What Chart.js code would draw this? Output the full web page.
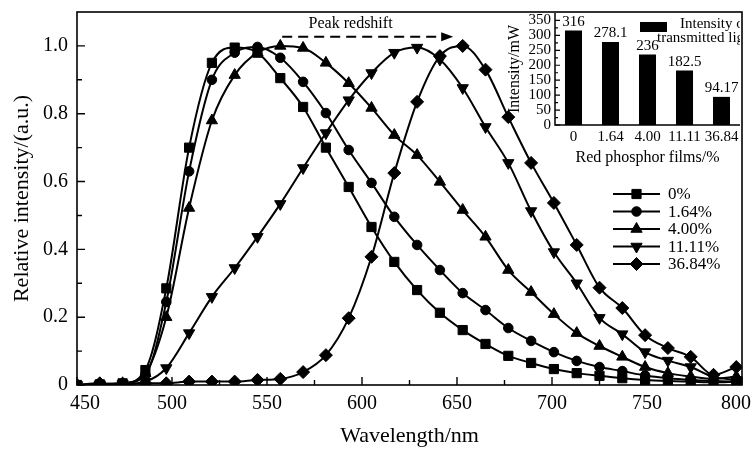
<!DOCTYPE html>
<html><head><meta charset="utf-8">
<script src="https://cdn.jsdelivr.net/npm/chart.js@4.4.1/dist/chart.umd.min.js"></script>
<style>
html,body{margin:0;padding:0;background:#fff;}
#wrap{position:relative;width:755px;height:449px;background:#fff;}
#main{position:absolute;left:0;top:0;}
#inset{position:absolute;left:497px;top:0;}
</style></head><body>
<div id="wrap"><canvas id="main" width="755" height="449"></canvas><canvas id="inset" width="258" height="175"></canvas></div>
<script>
// ---------------- data ----------------
const wavelengths = [450,462,474,486,497,509,521,533,545,557,569,581,593,605,617,629,641,653,665,677,689,701,713,725,737,749,761,773,785,797];
const s0    = [0.000,0.002,0.005,0.044,0.285,0.700,0.950,0.995,0.980,0.905,0.820,0.700,0.584,0.466,0.363,0.280,0.213,0.162,0.121,0.086,0.065,0.047,0.035,0.027,0.020,0.015,0.012,0.010,0.008,0.010];
const s164  = [0.000,0.002,0.005,0.030,0.245,0.630,0.900,0.980,0.997,0.965,0.894,0.802,0.693,0.596,0.496,0.413,0.339,0.271,0.221,0.168,0.130,0.097,0.071,0.053,0.041,0.028,0.020,0.015,0.012,0.010];
const s400  = [0.000,0.002,0.005,0.035,0.200,0.522,0.780,0.914,0.980,1.000,0.994,0.950,0.890,0.817,0.737,0.678,0.599,0.516,0.437,0.339,0.274,0.209,0.153,0.115,0.083,0.053,0.035,0.025,0.018,0.025];
const s1111 = [0.000,0.002,0.003,0.010,0.050,0.153,0.260,0.345,0.437,0.534,0.640,0.743,0.840,0.920,0.980,0.995,0.960,0.876,0.761,0.655,0.513,0.392,0.300,0.198,0.150,0.097,0.072,0.053,0.024,0.015];
const s3684 = [0.000,0.005,0.002,0.005,0.005,0.010,0.010,0.010,0.015,0.018,0.038,0.088,0.197,0.378,0.625,0.835,0.970,1.000,0.930,0.790,0.655,0.537,0.413,0.287,0.227,0.147,0.109,0.083,0.030,0.053];
const seriesLabels = ['0%','1.64%','4.00%','11.11%','36.84%'];
const seriesValues = [s0, s164, s400, s1111, s3684];

const xTicks = [450,500,550,600,650,700,750,800];
const xTickLabels = ['450','500','550','600','650','700','750','800'];
const yTicks = [0,0.2,0.4,0.6,0.8,1.0];
const yTickLabels = ['0','0.2','0.4','0.6','0.8','1.0'];

const arrowFrom = 558, arrowTo = 648, arrowLevel = 1.027;
const arrowText = 'Peak redshift', arrowTextX = 594, arrowTextY = 1.065;

const insetCategories = ['0','1.64','4.00','11.11','36.84'];
const insetValues = [316, 278.1, 236, 182.5, 94.17];
const insetValueLabels = ['316','278.1','236','182.5','94.17'];
const insetYTicks = [0,50,100,150,200,250,300,350];
const insetLegendLines = ['Intensity of','transmitted light'];

// ---------------- styles ----------------
const FONT = '"Liberation Serif","Times New Roman",serif';
const markers = [
  {pointStyle:'rect', radius:6.5, rotation:0},
  {pointStyle:'circle', radius:4.8, rotation:0},
  {pointStyle:'triangle', radius:6.5, rotation:0},
  {pointStyle:'triangle', radius:6.5, rotation:180},
  {pointStyle:'rectRot', radius:6.5, rotation:0}
];

function drawMarker(ctx, m, x, y){
  ctx.save();
  ctx.fillStyle = '#000'; ctx.strokeStyle = '#000'; ctx.lineWidth = 1;
  if (Chart.helpers && Chart.helpers.drawPoint){
    Chart.helpers.drawPoint(ctx, {pointStyle:m.pointStyle, rotation:m.rotation, radius:m.radius, borderWidth:1}, x, y);
  } else {
    ctx.beginPath(); ctx.arc(x,y,m.radius,0,Math.PI*2); ctx.fill();
  }
  ctx.restore();
}
function noPad(s){ s.paddingLeft = 0; s.paddingRight = 0; s.paddingTop = 0; s.paddingBottom = 0; }

const mainPlugin = {
  id:'mainDeco',
  afterDraw(chart){
    const {ctx, chartArea:a, scales:{x, y}} = chart;
    ctx.save();
    ctx.strokeStyle = '#000'; ctx.lineWidth = 1.6;
    ctx.strokeRect(a.left, a.top, a.right - a.left, a.bottom - a.top);
    ctx.lineWidth = 1.4;
    ctx.beginPath();
    xTicks.forEach((v,i)=>{
      const px = x.getPixelForValue(v);
      ctx.moveTo(px, a.bottom); ctx.lineTo(px, a.bottom - 8);
      if (i < xTicks.length - 1){
        const pm = x.getPixelForValue((v + xTicks[i+1]) / 2);
        ctx.moveTo(pm, a.bottom); ctx.lineTo(pm, a.bottom - 5);
      }
    });
    yTicks.forEach((v,i)=>{
      const py = y.getPixelForValue(v);
      ctx.moveTo(a.left, py); ctx.lineTo(a.left + 8, py);
      if (i < yTicks.length - 1){
        const pm = y.getPixelForValue((v + yTicks[i+1]) / 2);
        ctx.moveTo(a.left, pm); ctx.lineTo(a.left + 5, pm);
      }
    });
    ctx.stroke();
    // x tick labels (end labels nudged inward as in the original figure)
    ctx.fillStyle = '#000';
    ctx.font = '20px ' + FONT; ctx.textAlign = 'center'; ctx.textBaseline = 'middle';
    xTicks.forEach((v,i)=>{
      let px = x.getPixelForValue(v);
      if (i === 0) px += 8;
      if (i === xTicks.length - 1) px -= 6;
      ctx.fillText(xTickLabels[i], px, a.bottom + 19);
    });
    // dashed arrow
    const x0 = x.getPixelForValue(arrowFrom), x1 = x.getPixelForValue(arrowTo), ay = y.getPixelForValue(arrowLevel);
    ctx.lineWidth = 2;
    ctx.setLineDash([10,6]);
    ctx.beginPath(); ctx.moveTo(x0, ay); ctx.lineTo(x1 - 10, ay); ctx.stroke();
    ctx.setLineDash([]);
    ctx.beginPath(); ctx.moveTo(x1, ay); ctx.lineTo(x1 - 12, ay - 4.5); ctx.lineTo(x1 - 12, ay + 4.5); ctx.closePath();
    ctx.fill();
    ctx.font = '16px ' + FONT;
    ctx.fillText(arrowText, x.getPixelForValue(arrowTextX), y.getPixelForValue(arrowTextY));
    // legend
    const lx = 613, llen = 47, ty0 = 194, gap = 17.5;
    ctx.font = '17px ' + FONT; ctx.textAlign = 'left';
    chart.data.datasets.forEach((ds, i)=>{
      const ry = ty0 + i * gap;
      ctx.lineWidth = 2; ctx.strokeStyle = '#000';
      ctx.beginPath(); ctx.moveTo(lx, ry); ctx.lineTo(lx + llen, ry); ctx.stroke();
      drawMarker(ctx, markers[i], lx + llen/2, ry);
      ctx.fillStyle = '#000';
      ctx.fillText(ds.label, lx + llen + 8, ry + 1);
    });
    ctx.restore();
  }
};

new Chart(document.getElementById('main'), {
  type:'line',
  data:{
    datasets: seriesValues.map((vals, i)=>({
      label: seriesLabels[i],
      data: wavelengths.map((w, j)=>({x:w, y:vals[j]})),
      borderColor:'#000', backgroundColor:'#000', borderWidth:2,
      pointStyle: markers[i].pointStyle, pointRadius: markers[i].radius, pointRotation: markers[i].rotation,
      pointBackgroundColor:'#000', pointBorderColor:'#000', pointBorderWidth:1,
      cubicInterpolationMode:'monotone', fill:false
    }))
  },
  options:{
    responsive:false, animation:false, devicePixelRatio:1,
    layout:{padding:{left:0,right:13,top:12,bottom:0}},
    plugins:{legend:{display:false}, tooltip:{enabled:false}},
    scales:{
      x:{type:'linear', min:450, max:800,
        afterBuildTicks:s=>{ s.ticks = xTicks.map(v=>({value:v})); },
        afterFit:s=>{ s.height = 64; noPad(s); },
        grid:{display:false, drawTicks:false}, border:{display:false},
        ticks:{display:false},
        title:{display:true, text:'Wavelength/nm', font:{family:FONT,size:22}, color:'#000', padding:{top:0,bottom:0}}
      },
      y:{type:'linear', min:0, max:1.1,
        afterBuildTicks:s=>{ s.ticks = yTicks.map(v=>({value:v})); },
        afterFit:s=>{ s.width = 77; noPad(s); },
        grid:{display:false, drawTicks:false}, border:{display:false},
        ticks:{font:{family:FONT,size:20}, color:'#000', padding:9, autoSkip:false, callback:(v,i)=>yTickLabels[i]},
        title:{display:true, text:'Relative intensity/(a.u.)', font:{family:FONT,size:22}, color:'#000', padding:{top:9,bottom:0}}
      }
    }
  },
  plugins:[mainPlugin]
});

// ---------------- inset ----------------
const insetPlugin = {
  id:'insetDeco',
  afterDraw(chart){
    const {ctx, chartArea:a, scales:{y}} = chart;
    ctx.save();
    ctx.strokeStyle = '#000'; ctx.lineWidth = 1.5;
    ctx.beginPath();
    ctx.moveTo(a.left, a.top); ctx.lineTo(a.left, a.bottom); ctx.lineTo(a.right, a.bottom);
    ctx.stroke();
    ctx.lineWidth = 1.2;
    ctx.beginPath();
    insetYTicks.forEach((v,i)=>{
      const py = y.getPixelForValue(v);
      ctx.moveTo(a.left, py); ctx.lineTo(a.left + 5, py);
      if (i < insetYTicks.length - 1){
        const pm = y.getPixelForValue((v + insetYTicks[i+1]) / 2);
        ctx.moveTo(a.left, pm); ctx.lineTo(a.left + 3, pm);
      }
    });
    ctx.stroke();
    ctx.fillStyle = '#000';
    ctx.font = '15px ' + FONT; ctx.textAlign = 'center'; ctx.textBaseline = 'bottom';
    chart.getDatasetMeta(0).data.forEach((bar, i)=>{
      ctx.fillText(insetValueLabels[i], bar.x, bar.y - 1);
    });
    ctx.beginPath(); ctx.rect(a.left, a.top, a.right - a.left, a.bottom - a.top); ctx.clip();
    ctx.fillRect(143, 22, 27, 10);
    ctx.font = '15px ' + FONT; ctx.textAlign = 'left'; ctx.textBaseline = 'middle';
    ctx.fillText(insetLegendLines[0], 183, 24);
    ctx.fillText(insetLegendLines[1], 160, 38);
    ctx.restore();
  }
};

new Chart(document.getElementById('inset'), {
  type:'bar',
  data:{labels:insetCategories, datasets:[{label:insetLegendLines.join(' '), data:insetValues, backgroundColor:'#000', barPercentage:0.46, categoryPercentage:1.0}]},
  options:{
    responsive:false, animation:false, devicePixelRatio:1,
    layout:{padding:{left:0,right:15,top:13,bottom:0}},
    plugins:{legend:{display:false}, tooltip:{enabled:false}},
    scales:{
      x:{afterFit:s=>{ s.height = 50; noPad(s); },
        grid:{display:false, drawTicks:false}, border:{display:false},
        ticks:{font:{family:FONT,size:15}, color:'#000', padding:3, maxRotation:0, autoSkip:false},
        title:{display:true, text:'Red phosphor films/%', font:{family:FONT,size:16}, color:'#000', padding:{top:0,bottom:8}}
      },
      y:{min:0, max:375,
        afterBuildTicks:s=>{ s.ticks = insetYTicks.map(v=>({value:v})); },
        afterFit:s=>{ s.width = 58; noPad(s); },
        grid:{display:false, drawTicks:false}, border:{display:false},
        ticks:{font:{family:FONT,size:15}, color:'#000', padding:4, autoSkip:false},
        title:{display:true, text:'Intensity/mW', font:{family:FONT,size:16}, color:'#000', padding:{top:8,bottom:0}}
      }
    }
  },
  plugins:[insetPlugin]
});
</script>
</body></html>
